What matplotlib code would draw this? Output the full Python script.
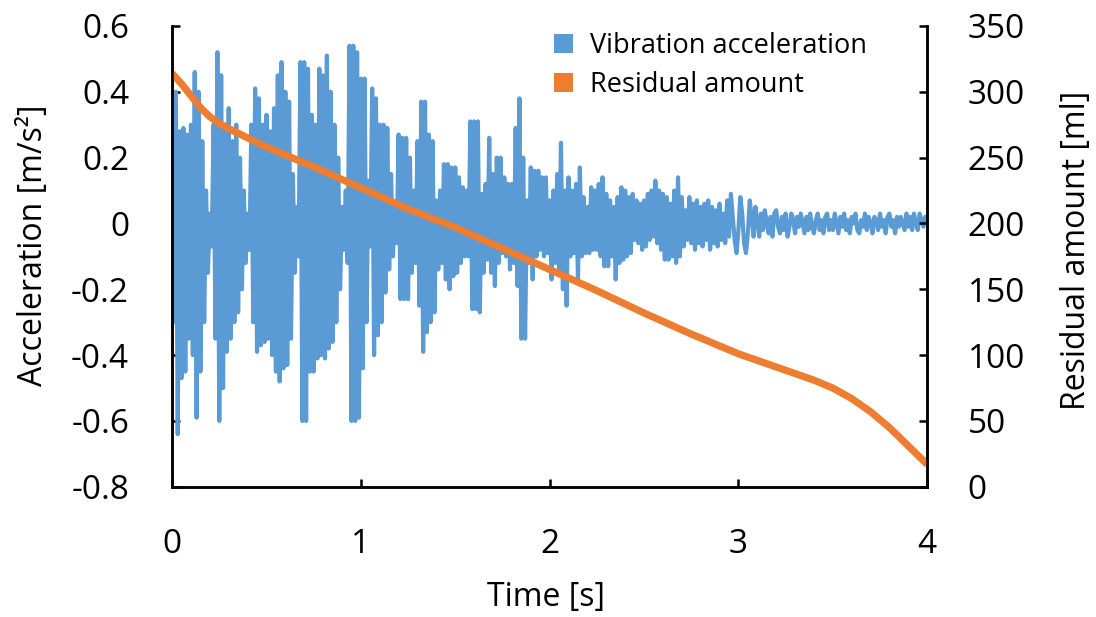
import numpy as np
import matplotlib
matplotlib.use("Agg")
import matplotlib.pyplot as plt
from matplotlib.patches import Patch

plt.rcParams['font.family'] = ['Open Sans', 'DejaVu Sans']

# Vibration acceleration [m/s^2], sampled every 0.01 s from 0 to 4 s
sample_dt = 0.01
acceleration = [
    0.05, -0.30, 0.40, -0.64, 0.28, -0.47, 0.29, -0.45, 0.27, -0.35,
    0.30, -0.40, 0.46, -0.59, 0.40, -0.45, 0.25, -0.30, 0.10, -0.15,
    0.03, -0.07, 0.30, -0.35, 0.52, -0.60, 0.45, -0.50, 0.30, -0.39,
    0.35, -0.35, 0.25, -0.30, 0.30, -0.27, 0.20, -0.20, 0.10, -0.12,
    0.03, -0.08, 0.30, -0.30, 0.41, -0.39, 0.38, -0.37, 0.30, -0.36,
    0.33, -0.35, 0.28, -0.40, 0.35, -0.45, 0.45, -0.48, 0.49, -0.44,
    0.40, -0.43, 0.37, -0.35, 0.15, -0.15, 0.05, -0.10, 0.49, -0.60,
    0.49, -0.60, 0.47, -0.45, 0.33, -0.45, 0.30, -0.41, 0.47, -0.40,
    0.45, -0.41, 0.51, -0.38, 0.40, -0.36, 0.30, -0.30, 0.20, -0.20,
    0.05, -0.08, 0.10, -0.12, 0.54, -0.60, 0.54, -0.60, 0.52, -0.59,
    0.44, -0.44, 0.44, -0.30, 0.13, -0.07, 0.41, -0.40, 0.38, -0.34,
    0.30, -0.30, 0.30, -0.21, 0.29, -0.14, 0.15, -0.10, 0.06, -0.06,
    0.27, -0.23, 0.26, -0.23, 0.26, -0.23, 0.20, -0.15, 0.10, -0.12,
    0.25, -0.25, 0.37, -0.39, 0.37, -0.33, 0.27, -0.30, 0.25, -0.27,
    0.07, -0.14, 0.10, -0.12, 0.18, -0.17, 0.18, -0.20, 0.17, -0.16,
    0.17, -0.15, 0.14, -0.12, 0.11, -0.10, 0.10, -0.10, 0.31, -0.26,
    0.31, -0.26, 0.31, -0.27, 0.09, -0.15, 0.12, -0.11, 0.26, -0.15,
    0.15, -0.19, 0.20, -0.12, 0.20, -0.09, 0.14, -0.10, 0.12, -0.14,
    0.12, -0.12, 0.29, -0.19, 0.38, -0.35, 0.20, -0.35, 0.07, -0.12,
    0.17, -0.17, 0.16, -0.10, 0.16, -0.08, 0.14, -0.10, 0.14, -0.09,
    0.07, -0.17, 0.10, -0.12, 0.15, -0.15, 0.245, -0.20, 0.10, -0.25,
    0.14, -0.10, 0.10, -0.09, 0.12, -0.17, 0.17, -0.10, 0.08, -0.09,
    0.05, -0.09, 0.11, -0.08, 0.10, -0.08, 0.12, -0.10, 0.14, -0.13,
    0.09, -0.13, 0.07, -0.10, 0.05, -0.17, 0.08, -0.12, 0.11, -0.11,
    0.10, -0.10, 0.08, -0.09, 0.09, -0.05, 0.07, -0.06, 0.06, -0.08,
    0.07, -0.07, 0.09, -0.05, 0.10, -0.04, 0.13, -0.06, 0.10, -0.08,
    0.09, -0.11, 0.08, -0.11, 0.06, -0.10, 0.10, -0.12, 0.14, -0.10,
    0.08, -0.07, 0.04, -0.05, 0.08, -0.06, 0.06, -0.08, 0.07, -0.06,
    0.05, -0.07, 0.06, -0.05, 0.07, -0.08, 0.05, -0.06, 0.04, -0.07,
    0.06, -0.05, 0.03, -0.06, 0.07, -0.04, 0.09, 0.02, -0.05, -0.09,
    -0.02, 0.08, 0.03, -0.06, -0.09, -0.03, 0.07, 0.02, -0.04, 0.05,
    0.01, -0.04, 0.03, -0.02, 0.04, 0.00, -0.03, 0.02, -0.04, 0.03,
    0.04, -0.01, -0.03, 0.02, -0.02, 0.03, -0.04, -0.01, 0.03, 0.01,
    -0.03, 0.02, -0.01, 0.03, 0.00, -0.03, 0.02, -0.02, 0.03, -0.01,
    -0.03, 0.01, 0.03, -0.02, 0.01, -0.03, 0.02, 0.03, -0.02, 0.01,
    -0.02, 0.03, 0.00, -0.03, 0.02, -0.01, 0.03, -0.02, 0.01, -0.03,
    0.02, 0.00, 0.03, -0.02, -0.03, 0.01, -0.01, 0.03, -0.02, 0.02,
    0.00, -0.03, 0.02, 0.01, -0.02, 0.03, -0.01, 0.01, -0.03, 0.02,
    0.03, -0.01, 0.01, -0.03, 0.02, -0.01, 0.02, 0.00, -0.02, 0.03,
    -0.01, 0.02, -0.02, 0.03, 0.00, -0.02, 0.03, 0.01, -0.01, 0.02,
    0.01,
]

# Residual amount [ml]
residual_time = [0, 0.05, 0.1, 0.15, 0.2, 0.25, 0.3, 0.4, 0.5, 0.75, 1.0,
                 1.25, 1.5, 1.75, 2.0, 2.25, 2.5, 2.75, 3.0, 3.1, 3.2, 3.3,
                 3.4, 3.5, 3.6, 3.7, 3.8, 3.9, 4.0]
residual_ml = [314, 306, 297, 288, 281, 276, 272, 265, 258, 243, 227,
               211, 197, 181, 165, 149, 132, 116, 101, 96, 91, 86,
               81, 75, 67, 57, 45, 31, 17]

acc_ticks = [-0.8, -0.6, -0.4, -0.2, 0, 0.2, 0.4, 0.6]
acc_labels = ["-0.8", "-0.6", "-0.4", "-0.2", "0", "0.2", "0.4", "0.6"]
ml_ticks = [0, 50, 100, 150, 200, 250, 300, 350]
time_ticks = [0, 1, 2, 3, 4]

blue = "#5B9BD5"
orange = "#ED7D31"

time = np.arange(len(acceleration)) * sample_dt

fig = plt.figure(figsize=(10.96, 6.17), dpi=100)
ax1 = fig.add_axes([0.157, 0.211, 0.689, 0.747])
ax2 = ax1.twinx()

ax1.plot(time, acceleration, color=blue, lw=3.0)
ax2.plot(residual_time, residual_ml, color=orange, lw=5.2, solid_capstyle="butt")

ax1.set_xlim(0, 4)
ax1.set_ylim(-0.8, 0.6)
ax2.set_ylim(0, 350)

ax1.set_xticks(time_ticks)
ax1.set_xticklabels([str(t) for t in time_ticks])
ax1.set_yticks(acc_ticks)
ax1.set_yticklabels(acc_labels)
ax2.set_yticks(ml_ticks)

for ax in (ax1, ax2):
    ax.spines["top"].set_visible(False)
    for s in ("left", "right", "bottom"):
        ax.spines[s].set_linewidth(1.8)
        ax.spines[s].set_color("black")

ax1.tick_params(axis="both", direction="in", length=6, width=1.8,
                labelsize=24, colors="black")
ax1.tick_params(axis="x", pad=30)
ax1.tick_params(axis="y", pad=31)
ax2.tick_params(axis="y", direction="in", length=6, width=1.8,
                labelsize=24, pad=29)

ax1.set_xlabel("Time [s]", fontsize=23)
ax1.set_ylabel("Acceleration [m/s²]", fontsize=23)
ax2.set_ylabel("Residual amount [ml]", fontsize=23)
ax1.xaxis.set_label_coords(0.495, -0.205)
ax1.yaxis.set_label_coords(-0.162, 0.525)
ax2.yaxis.set_label_coords(1.176, 0.514)

handles = [Patch(facecolor=blue, edgecolor="none"),
           Patch(facecolor=orange, edgecolor="none")]
ax2.legend(handles, ["Vibration acceleration", "Residual amount"],
           loc="upper left", bbox_to_anchor=(0.491, 0.975),
           bbox_transform=fig.transFigure, frameon=False, fontsize=19.5,
           handlelength=0.7, handleheight=0.7, handletextpad=0.6,
           labelspacing=0.42, borderaxespad=0.2)

fig.savefig("out.png", dpi=100)
